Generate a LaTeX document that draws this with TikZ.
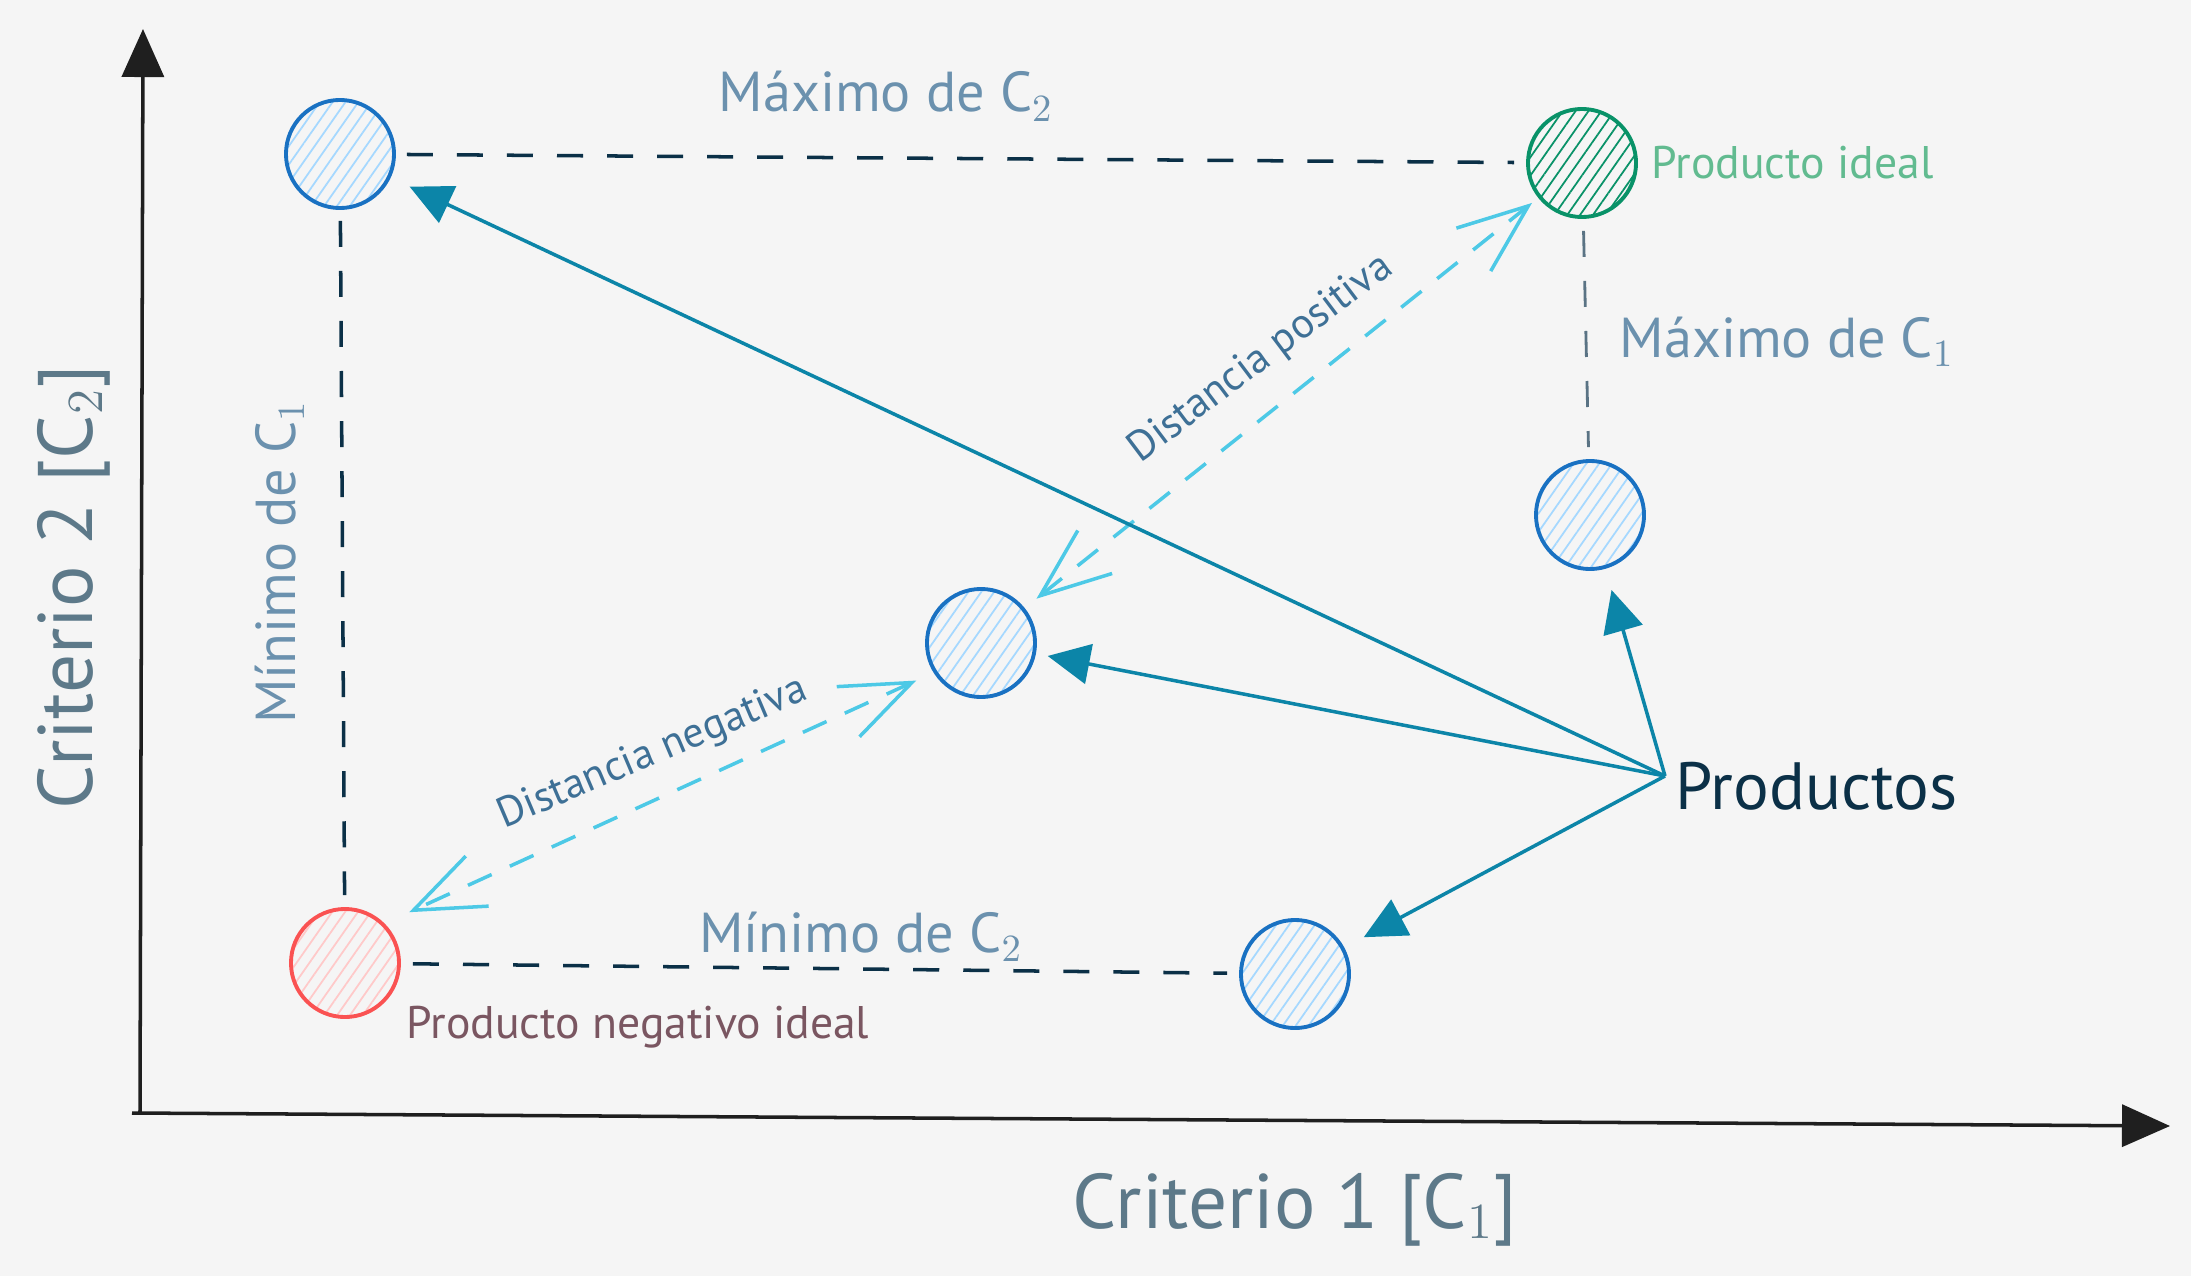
\documentclass[tikz,border=0pt]{standalone}
\usepackage{fontspec}
\setmainfont{PT Sans}
\usetikzlibrary{arrows.meta,patterns.meta,positioning}
\definecolor{bg}{HTML}{F5F5F5}
\definecolor{cblue}{HTML}{1971C2}
\definecolor{chatch}{HTML}{A5D8FF}
\definecolor{cred}{HTML}{FA5252}
\definecolor{crhatch}{HTML}{FFC9C9}
\definecolor{cgreen}{HTML}{099268}
\definecolor{cteal}{HTML}{0C85A8}
\definecolor{clight}{HTML}{4DC9E6}
\definecolor{cdark}{HTML}{0B3047}
\definecolor{cgrey}{HTML}{5A7384}
\definecolor{clabel}{HTML}{6B91AE}
\definecolor{caxis}{HTML}{5D7989}
\definecolor{cneg}{HTML}{7A5661}
\definecolor{cdist}{HTML}{3E7096}
\definecolor{cideal}{HTML}{62BB90}
\begin{document}
	\begin{tikzpicture}[x=0.01cm, y=-0.01cm,
		main/.style = {draw, circle, minimum size=1.08cm, inner sep=0pt, line width=1.1pt},
		prod/.style = {main, draw=cblue, pattern={Lines[angle=55,distance=3pt,line width=0.5pt]}, pattern color=chatch},
		neg/.style = {main, draw=cred, pattern={Lines[angle=55,distance=3pt,line width=0.5pt]}, pattern color=crhatch},
		ideal/.style = {main, draw=cgreen, pattern={Lines[angle=55,distance=3pt,line width=0.5pt]}, pattern color=cgreen},
		lbl/.style = {inner sep=0pt, text=clabel, font=\fontsize{16}{19}\selectfont},
		axis/.style = {draw=black!88, line width=1pt, -{Triangle[length=0.48cm,width=0.42cm]}},
		guide/.style = {draw=cdark, line width=1pt, dash pattern=on 0.26cm off 0.24cm, shorten <=0.12cm, shorten >=0.12cm},
		link/.style = {draw=cteal, line width=1pt, -{Triangle[length=0.42cm,width=0.4cm]}, shorten >=0.22cm},
		dist/.style = {draw=clight, line width=1pt, dash pattern=on 0.26cm off 0.2cm, {Straight Barb[length=0.7cm,width=0.55cm]}-{Straight Barb[length=0.7cm,width=0.55cm]}}]
		\fill[bg] (0,0) rectangle (2191,1276);
		\coordinate (o) at (140,1113);
		\coordinate (ytip) at (143,29);
		\coordinate (xtip) at (2170,1126);
		\draw[axis] (o) -- (ytip);
		\draw[axis] (132,1113) -- (xtip);
		\node[prod] (1) at (340,154) {};
		\node[ideal] (2) at (1582,163) {};
		\node[prod] (3) at (1590,515) {};
		\node[prod] (4) at (981,643) {};
		\node[neg] (5) at (345,963) {};
		\node[prod] (6) at (1295,974) {};
		\node[lbl, anchor=base] (maxc2) at (886,112) {Máximo de C$_2$};
		\node[lbl, anchor=base west] (maxc1) at (1619,357) {Máximo de C$_1$};
		\node[lbl, anchor=base] (minc2) at (861,952) {Mínimo de C$_2$};
		\node[lbl, anchor=base, rotate=90] (minc1) at (295,562) {Mínimo de C$_1$};
		\node[inner sep=0pt, text=cideal, font=\fontsize{13}{16}\selectfont] (lideal) [right=0.13cm of 2] {Producto ideal};
		\node[inner sep=0pt, text=cneg, font=\fontsize{13}{16}\selectfont, anchor=base west] (lneg) at (406,1038) {Producto negativo ideal};
		\node[inner sep=0pt, text=cdark, font=\fontsize{19}{22}\selectfont, anchor=base west] (products) at (1675,809) {Productos};
		\node[inner sep=0pt, text=caxis, font=\fontsize{22}{26}\selectfont, anchor=base] (c1) at (1295,1228) {Criterio 1 [C$_1$]};
		\node[inner sep=0pt, text=caxis, font=\fontsize{22}{26}\selectfont, anchor=base, rotate=90] (c2) at (92,587) {Criterio 2 [C$_2$]};
		\node[inner sep=0pt, text=cdist, font=\fontsize{12}{14}\selectfont, rotate=37] (dpos) at (1261,359) {Distancia positiva};
		\node[inner sep=0pt, text=cdist, font=\fontsize{12}{14}\selectfont, rotate=23] (dneg) at (653,754) {Distancia negativa};
		\draw[guide] (1) -- (2);
		\draw[guide] (1) -- (5);
		\draw[guide] (5) -- (6);
		\draw[guide, draw=cgrey, line width=0.8pt] (2) -- (3);
		\draw[dist, shorten <=0.15cm, shorten >=0.08cm] (4) -- (2);
		\draw[dist, shorten <=0.19cm, shorten >=0.27cm] (4.212) -- (5.45);
		\coordinate (src) at (1665,776);
		\draw[link] (src) -- (1);
		\draw[link, shorten >=0.12cm] (src) -- (4);
		\draw[link] (src) -- (3);
		\draw[link] (src) -- (6);
	\end{tikzpicture}
\end{document}
